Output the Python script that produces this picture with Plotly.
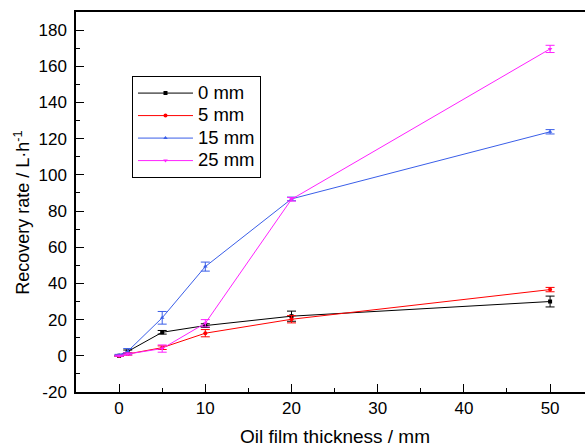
import plotly.graph_objects as go

thickness = [0, 1, 5, 10, 20, 50]
series_names = ["0 mm", "5 mm", "15 mm", "25 mm"]
y_0mm = [0.0, 2.4, 13.0, 16.7, 21.9, 30.0]
e_0mm = [0.3, 0.8, 1.0, 1.0, 2.8, 3.0]
y_5mm = [0.0, 1.0, 4.5, 12.5, 20.2, 36.6]
e_5mm = [0.3, 0.6, 1.0, 2.0, 2.0, 1.2]
y_15mm = [0.5, 2.5, 21.0, 49.3, 86.7, 123.8]
e_15mm = [0.3, 1.5, 3.5, 2.5, 1.0, 1.2]
y_25mm = [0.0, 1.0, 4.0, 18.0, 86.5, 169.6]
e_25mm = [0.3, 0.6, 2.0, 2.0, 1.0, 2.0]
x_ticks = [0, 10, 20, 30, 40, 50]
y_ticks = list(range(-20, 181, 20))
y_ticklabels = [str(v) for v in y_ticks]

colors = ["#000000", "#ff0000", "#3a5ee8", "#ff22ff"]
symbols = ["square", "circle", "triangle-up", "triangle-down"]
ys = [y_0mm, y_5mm, y_15mm, y_25mm]
es = [e_0mm, e_5mm, e_15mm, e_25mm]

fig = go.Figure()
for name, y, e, c, s in zip(series_names, ys, es, colors, symbols):
    fig.add_trace(go.Scatter(
        x=thickness, y=y, name='<span style="font-size:18.5px">' + name + '</span>',
        mode="lines+markers",
        line=dict(color=c, width=1),
        marker=dict(symbol=s, size=4, color=c),
        error_y=dict(type="data", array=e, visible=True, color=c, thickness=1, width=4.5),
    ))

font = "Liberation Sans, Arial, sans-serif"
fig.update_layout(
    width=585, height=446,
    margin=dict(l=76, r=0, t=12, b=54, autoexpand=False),
    plot_bgcolor="white", paper_bgcolor="white",
    font=dict(family=font, size=17, color="black"),
    showlegend=True,
    legend=dict(x=0.110, y=0.832, xanchor="left", yanchor="top",
                bgcolor="white", bordercolor="black", borderwidth=1,
                font=dict(size=15, family=font), tracegroupgap=0,
                itemwidth=55),
    xaxis=dict(range=[-5, 54.05], tickvals=x_ticks, automargin=False,
               ticks="inside", ticklen=8, tickwidth=1.2, tickcolor="black",
               minor=dict(tickvals=[5, 15, 25, 35, 45], ticks="inside", ticklen=4, tickcolor="black"),
               showline=True, linecolor="black", linewidth=1.5, mirror=True,
               showgrid=False, zeroline=False,
               tickfont=dict(size=17)),
    yaxis=dict(range=[-20, 190], tickvals=y_ticks, ticktext=y_ticklabels, automargin=False,
               ticks="inside", ticklen=8, tickwidth=1.2, tickcolor="black",
               minor=dict(tickvals=list(range(-10, 191, 20)), ticks="inside", ticklen=4, tickcolor="black"),
               showline=True, linecolor="black", linewidth=1.5, mirror=False,
               showgrid=False, zeroline=False, ticklabelstandoff=4,
               tickfont=dict(size=17)),
    annotations=[
        dict(text="Oil film thickness / mm", xref="paper", yref="paper",
             x=0.508, y=-0.116, xanchor="center", yanchor="middle",
             showarrow=False, font=dict(size=19)),
        dict(text="Recovery rate / L·h<sup>-1</sup>", xref="paper", yref="paper",
             x=-0.1057, y=0.472, xanchor="center", yanchor="middle", textangle=-90,
             showarrow=False, font=dict(size=18)),
    ],
)

fig.write_html("out.html", config={"displayModeBar": False},
               post_script="document.body.style.margin='0';document.body.style.overflow='hidden';")
